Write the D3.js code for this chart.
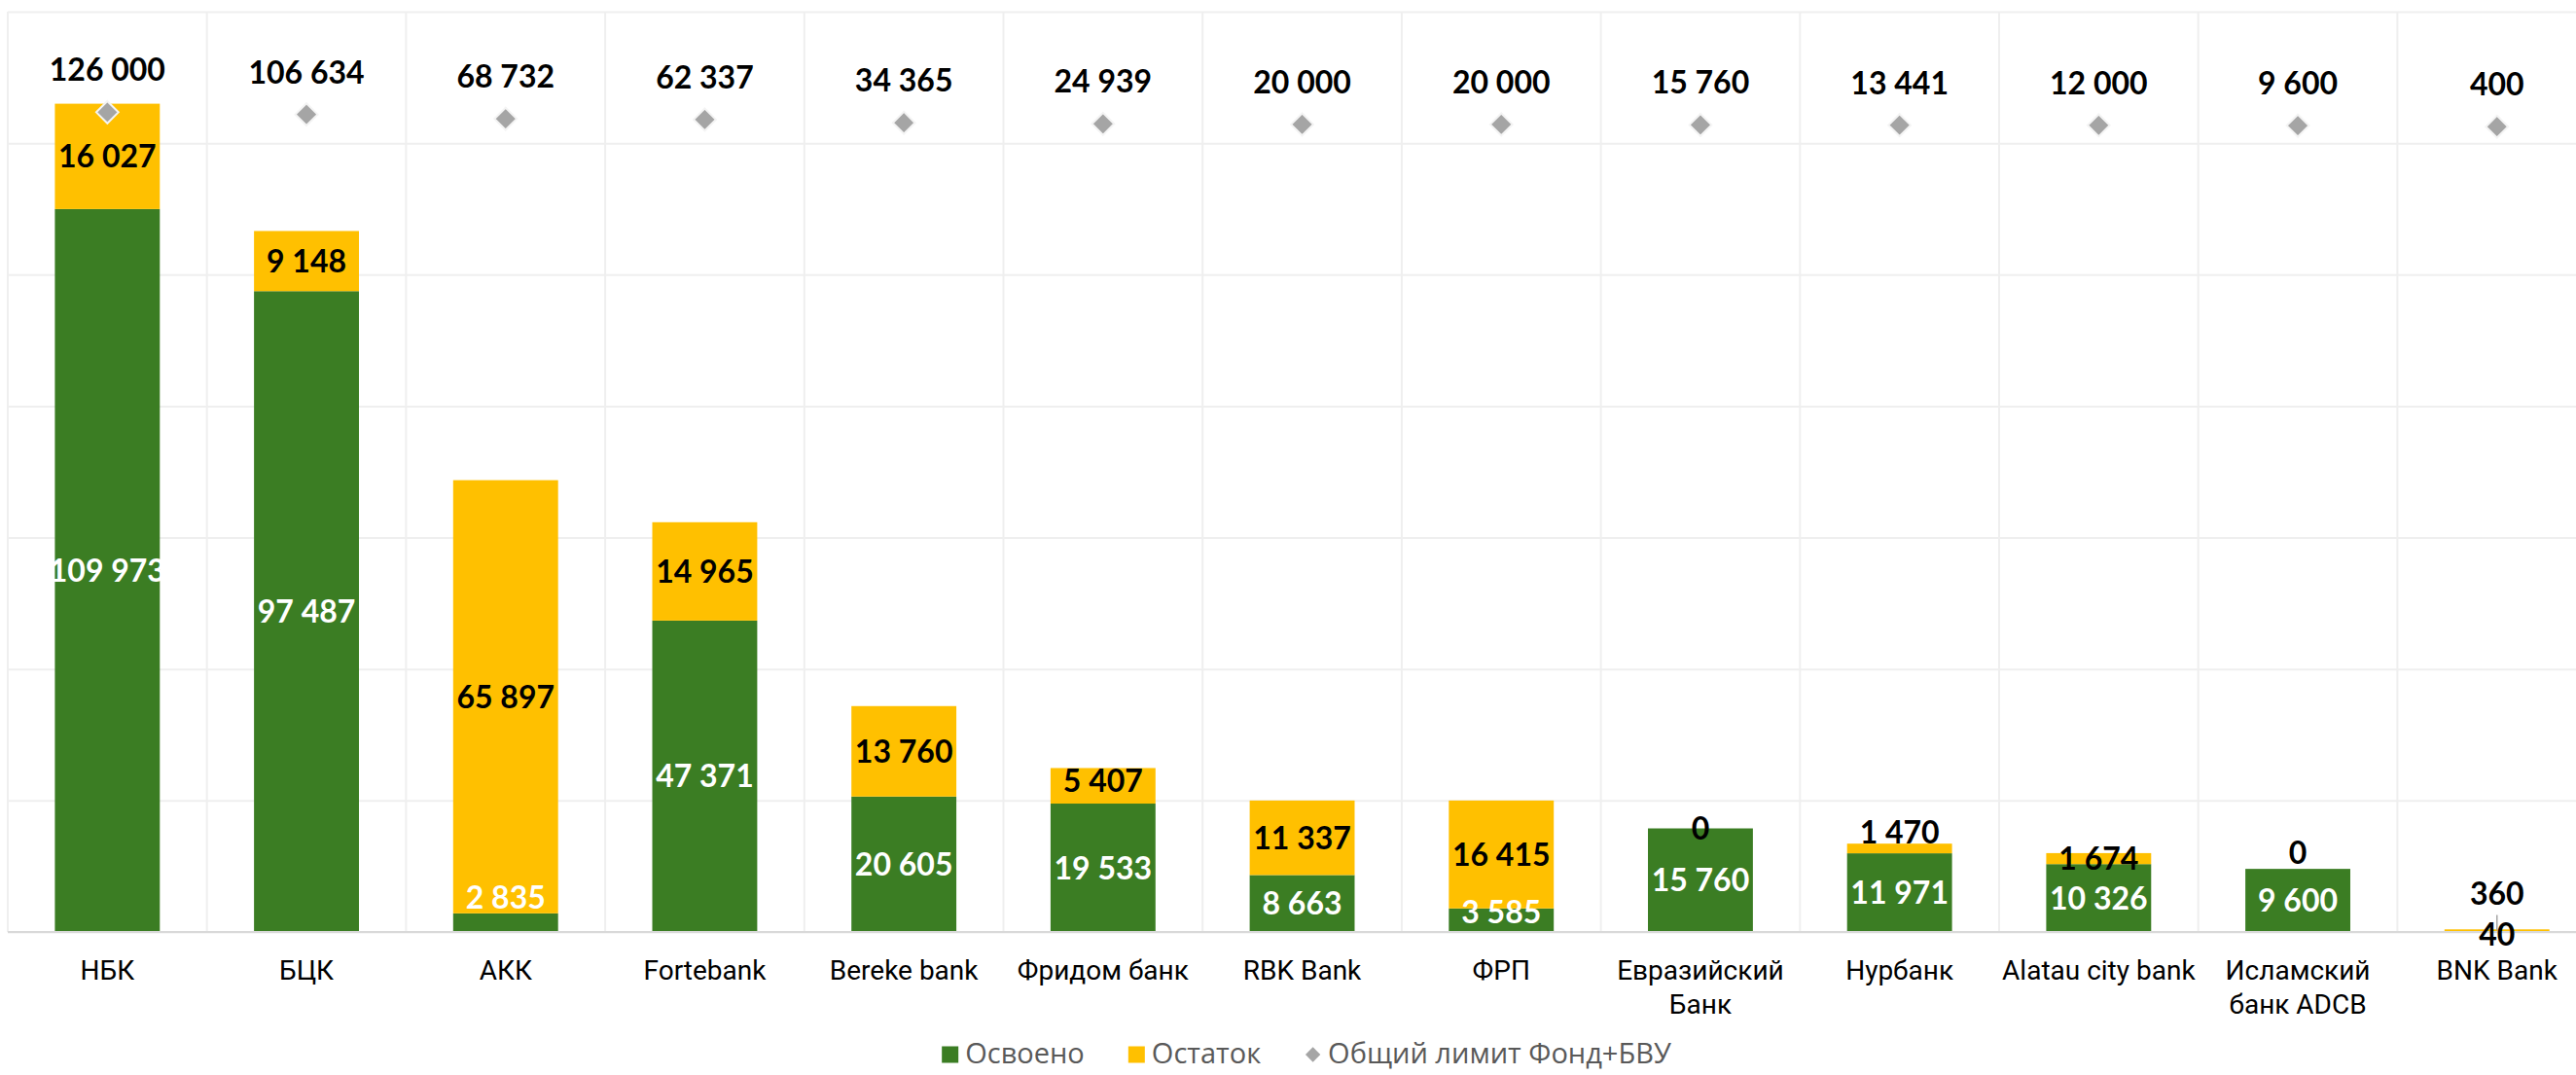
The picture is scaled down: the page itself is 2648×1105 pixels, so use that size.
<!DOCTYPE html>
<html>
<head>
<meta charset="utf-8">
<script src="https://cdn.jsdelivr.net/npm/d3@7"></script>
<style>
html,body{margin:0;padding:0;background:#fff;overflow:hidden}
</style>
</head>
<body>
<svg id="chart" width="2648" height="1105"></svg>
<script>
// ---------------- DATA ----------------
const categories = ['НБК','БЦК','АКК','Fortebank','Bereke bank','Фридом банк','RBK Bank','ФРП','Евразийский Банк','Нурбанк','Alatau city bank','Исламский банк ADCB','BNK Bank'];
const osvoeno = [109973, 97487, 2835, 47371, 20605, 19533, 8663, 3585, 15760, 11971, 10326, 9600, 40];
const ostatok = [16027, 9148, 65897, 14965, 13760, 5407, 11337, 16415, 0, 1470, 1674, 0, 360];
const limit   = [126000, 106634, 68732, 62337, 34365, 24939, 20000, 20000, 15760, 13441, 12000, 9600, 400];
const seriesNames = ['Освоено', 'Остаток', 'Общий лимит Фонд+БВУ'];
const gridValues = [0, 20000, 40000, 60000, 80000, 100000, 120000, 140000];

// ---------------- STYLE / LAYOUT ----------------
const W = 2648, H = 1105;
const plot = { left: 8, top: 12, bottom: 958, step: 204.7 };
const col = { osv: '#3B7D23', ost: '#FFC000', lim: '#A5A5A5', grid: '#EFEFEF', base: '#D9D9D9', legendText: '#595959' };
const labelFont = "Lato, 'Liberation Sans', sans-serif";
const catFont = "Roboto, 'Liberation Sans', sans-serif";
const legendFont = "'Open Sans', 'DejaVu Sans', sans-serif";
// label nudges (px, relative to segment centre), mimicking the manual label placement
const labelShift = { osv: {2: -26, 7: -8, 12: 3}, ost: {5: -5, 9: -17, 11: -17, 12: -38} };
const darkLabel = { osv: {12: true} };
const leader = { ost: {12: true} };

const svg = d3.select('#chart');
svg.append('rect').attr('width', W).attr('height', H).attr('fill', '#fff');

const plotRight = plot.left + plot.step * categories.length;
const x = d3.scaleBand().domain(categories).range([plot.left, plotRight]).paddingInner(0.473).paddingOuter(0.2365);
const y = d3.scaleLinear().domain([0, 140000]).range([plot.bottom, plot.top]);
const y2 = d3.scaleLinear().domain([-7000000, 1000000]).range([plot.bottom, plot.top]);
const fmt = d3.formatLocale({decimal: ',', thousands: ' ', grouping: [3], currency: ['', '']}).format(',d');

// gridlines (horizontal) via axis
const gAxis = svg.append('g').attr('transform', `translate(${plot.left},0)`)
  .call(d3.axisLeft(y).tickValues(gridValues).tickSize(-(plotRight - plot.left)).tickFormat(''));
gAxis.select('.domain').remove();
gAxis.selectAll('.tick line').attr('stroke', col.grid).attr('stroke-width', 2);

// vertical gridlines at band boundaries
svg.append('g').selectAll('line').data(d3.range(categories.length + 1)).join('line')
  .attr('x1', i => plot.left + i * x.step()).attr('x2', i => plot.left + i * x.step())
  .attr('y1', plot.top).attr('y2', plot.bottom)
  .attr('stroke', col.grid).attr('stroke-width', 2);

// stacked bars
const rows = categories.map((c, i) => ({ cat: c, i, osv: osvoeno[i], ost: ostatok[i], lim: limit[i] }));
const stack = d3.stack().keys(['osv', 'ost'])(rows);
const gBars = svg.append('g');
stack.forEach(layer => {
  gBars.append('g').selectAll('rect').data(layer).join('rect')
    .attr('x', d => x(d.data.cat)).attr('width', x.bandwidth())
    .attr('y', d => y(d[1])).attr('height', d => Math.max(0, y(d[0]) - y(d[1])))
    .attr('fill', col[layer.key]);
});

// baseline
svg.append('line').attr('x1', plot.left).attr('x2', plotRight).attr('y1', y(0)).attr('y2', y(0))
  .attr('stroke', col.base).attr('stroke-width', 2);

// segment labels
const gLab = svg.append('g').attr('font-family', labelFont).attr('font-weight', 700).attr('font-size', 32).attr('text-anchor', 'middle');
stack.forEach(layer => {
  const key = layer.key;
  layer.forEach((d, i) => {
    const cx = x(d.data.cat) + x.bandwidth() / 2;
    const cy = (y(d[0]) + y(d[1])) / 2 + ((labelShift[key] || {})[i] || 0);
    const isDark = key === 'ost' || ((darkLabel[key] || {})[i]);
    if (leader[key] && leader[key][i]) {
      gLab.append('line').attr('x1', cx).attr('x2', cx)
        .attr('y1', (y(d[0]) + y(d[1])) / 2).attr('y2', cy + 22)
        .attr('stroke', '#A6A6A6').attr('stroke-width', 1.5);
    }
    gLab.append('text').attr('x', cx).attr('y', cy).attr('dy', '0.36em')
      .attr('fill', isDark ? '#000' : '#fff').text(fmt(d.data[key]));
  });
});

// limit diamonds (secondary axis) and their labels
const diamond = d3.symbol().type(d3.symbolDiamond2).size(330);
svg.append('g').selectAll('path').data(rows).join('path')
  .attr('d', diamond)
  .attr('transform', d => `translate(${x(d.cat) + x.bandwidth() / 2},${y2(d.lim)})`)
  .attr('fill', col.lim).attr('stroke', '#F4F4F4').attr('stroke-width', 2);
svg.append('g').attr('font-family', labelFont).attr('font-weight', 700).attr('font-size', 32).attr('text-anchor', 'middle')
  .selectAll('text').data(rows).join('text')
  .attr('x', d => x(d.cat) + x.bandwidth() / 2).attr('y', d => y2(d.lim) - 43.5).attr('dy', '0.36em')
  .attr('fill', '#000').text(d => fmt(d.lim));

// category labels with wrapping
const gCat = svg.append('g').attr('font-family', catFont).attr('font-size', 28).attr('fill', '#000').attr('text-anchor', 'middle');
categories.forEach(c => {
  const cx = x(c) + x.bandwidth() / 2;
  const t = gCat.append('text').attr('x', cx).attr('y', 997).attr('dy', '0.36em');
  const words = c.split(' ');
  let line = [];
  let tspan = t.append('tspan').attr('x', cx);
  words.forEach(w => {
    line.push(w);
    tspan.text(line.join(' '));
    if (tspan.node().getComputedTextLength() > x.step() && line.length > 1) {
      line.pop();
      tspan.text(line.join(' '));
      line = [w];
      tspan = t.append('tspan').attr('x', cx).attr('dy', 35).text(w);
    }
  });
});

// legend
const gLeg = svg.append('g').attr('font-family', legendFont).attr('font-size', 29).attr('fill', col.legendText);
const legItems = [
  { name: seriesNames[0], type: 'rect', color: col.osv },
  { name: seriesNames[1], type: 'rect', color: col.ost },
  { name: seriesNames[2], type: 'diamond', color: col.lim }
];
const legY = 1083, sw = 17, gapST = 7, gapItem = 45;
let cursor = 0;
const placed = [];
legItems.forEach(it => {
  const g = gLeg.append('g');
  if (it.type === 'rect') {
    g.append('rect').attr('x', 0).attr('y', -sw / 2 + 1).attr('width', sw).attr('height', sw).attr('fill', it.color);
  } else {
    g.append('path').attr('d', d3.symbol().type(d3.symbolDiamond2).size(150)).attr('transform', `translate(${sw / 2},1)`).attr('fill', it.color);
  }
  const t = g.append('text').attr('x', sw + gapST).attr('y', 0).attr('dy', '0.36em').text(it.name);
  const w = sw + gapST + t.node().getComputedTextLength();
  placed.push({ g, off: cursor });
  cursor += w + gapItem;
});
const legW = cursor - gapItem;
const legX0 = 1343 - legW / 2;
placed.forEach(p => p.g.attr('transform', `translate(${legX0 + p.off},${legY})`));
</script>
</body>
</html>
